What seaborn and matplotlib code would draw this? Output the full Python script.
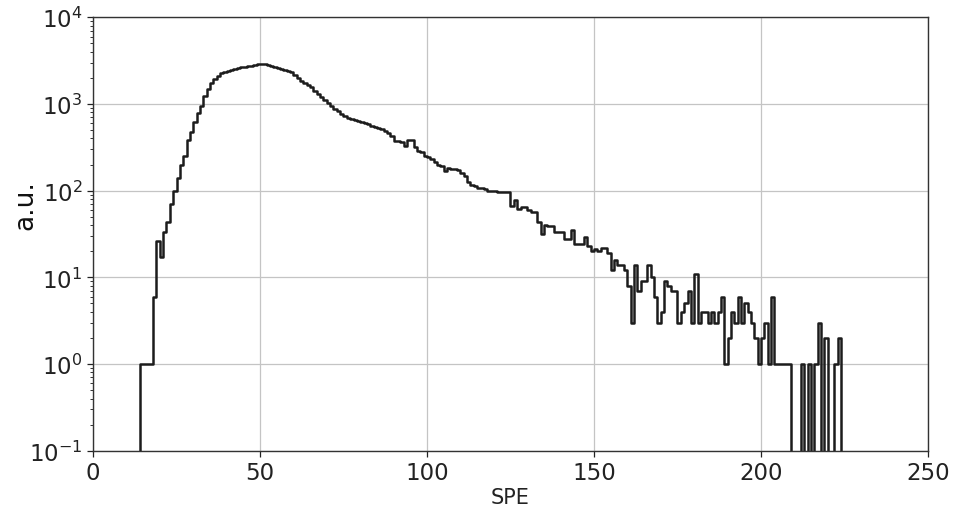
import numpy as np
import pandas as pd
import matplotlib
matplotlib.use("Agg")
import matplotlib.pyplot as plt
import seaborn as sns

# ---- data: histogram counts per 1-SPE bin (left edge = bin_left) ----
bin_left = list(range(14, 225))
counts = [
    # 14-23
    1, 1, 1, 1, 6, 26, 17, 33, 44, 70,
    # 24-33
    100, 140, 200, 250, 380, 480, 620, 790, 960, 1250,
    # 34-43
    1500, 1750, 1950, 2100, 2250, 2350, 2420, 2480, 2530, 2580,
    # 44-53
    2650, 2700, 2720, 2760, 2820, 2900, 2930, 2880, 2820, 2760,
    # 54-63
    2700, 2600, 2530, 2460, 2380, 2320, 2150, 2000, 1860, 1760,
    # 64-73
    1650, 1550, 1420, 1300, 1190, 1100, 1020, 955, 880, 820,
    # 74-83
    760, 720, 690, 670, 650, 630, 615, 600, 580, 555,
    # 84-93
    545, 525, 510, 494, 460, 430, 377, 370, 361, 330,
    # 94-103
    388, 388, 316, 290, 277, 253, 245, 232, 216, 200,
    # 104-113
    191, 170, 185, 178, 176, 174, 160, 149, 125, 116,
    # 114-123
    112, 108, 106, 105, 100, 100, 100, 97, 97, 96,
    # 124-133
    96, 67, 77, 61, 64, 64, 60, 56, 56, 43,
    # 134-143
    32, 40, 39, 39, 33, 33, 33, 28, 28, 35,
    # 144-153
    24, 24, 24, 29, 23, 20, 21, 20, 22, 22,
    # 154-163
    19, 12, 16, 14, 14, 12, 8, 3, 14, 7,
    # 164-173
    9, 9, 14, 10, 6, 3, 4, 9, 8, 7,
    # 174-183
    7, 3, 4, 5, 7, 3, 11, 3, 4, 4,
    # 184-193
    3, 4, 3, 4, 6, 1, 2, 4, 3, 6,
    # 194-203
    3, 5, 4, 3, 2, 1, 2, 3, 1, 6,
    # 204-213
    1, 1, 1, 1, 1, 0, 0, 0, 1, 0,
    # 214-224
    1, 0, 1, 3, 0, 2, 0, 0, 1, 2, 0,
]

x_ticks = [0, 50, 100, 150, 200, 250]
x_label = "SPE"
y_label = "a.u."

df = pd.DataFrame({"spe": np.array(bin_left, dtype=float) + 0.5,
                   "count": np.array(counts, dtype=float)})

sns.set_style("ticks")
plt.rcParams["font.family"] = ["DejaVu Sans"]

fig = plt.figure(figsize=(9.57, 5.10), dpi=100)
ax = fig.add_axes([93 / 957, 1 - 451.7 / 510, (928 - 93) / 957, (451.7 - 18.3) / 510])

sns.histplot(data=df, x="spe", weights="count", binwidth=1, binrange=(0, 250),
             element="step", fill=False, color="#1c1c1c", linewidth=1.8, ax=ax)

ax.set_yscale("log")
ax.set_ylim(0.1, 1e4)
ax.set_xlim(0, 250)
ax.set_xticks(x_ticks)

ax.grid(True, which="major", color="#c4c4c4", linewidth=0.9)
ax.set_axisbelow(True)
for s in ax.spines.values():
    s.set_visible(True)
    s.set_color("#333333")
    s.set_linewidth(1.0)

ax.tick_params(axis="both", which="major", labelsize=16.5, colors="#222222",
               length=4, width=0.9)
ax.tick_params(axis="y", which="minor", length=2.5, width=0.7, colors="#333333")

ax.set_xlabel(x_label, fontsize=15, color="#222222", labelpad=2)
ax.set_ylabel(y_label, fontsize=19, color="#111111")
ax.yaxis.set_label_coords(-0.066, 0.57)

fig.savefig("out.png", dpi=100, facecolor="white")
